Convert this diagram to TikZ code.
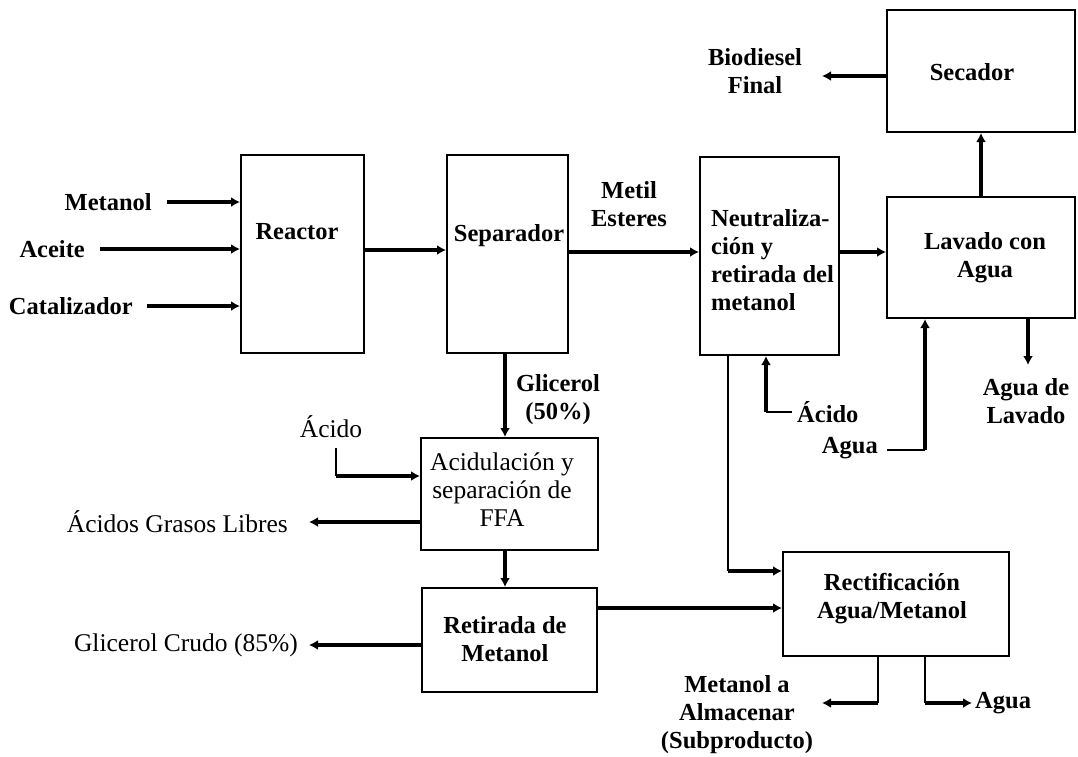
\documentclass[tikz,border=0pt]{standalone}
\usepackage{fontspec}
\setmainfont{Liberation Serif}
\usetikzlibrary{arrows.meta}
\tikzset{
 procbox/.style={draw, line width=2pt, inner sep=0pt},
 lb/.style={font=\fontsize{24.5}{28}\selectfont\bfseries, inner sep=0pt, align=center},
 lr/.style={font=\fontsize{25.5}{28}\selectfont, inner sep=0pt, align=center},
 flow/.style={line width=3.6pt, -{Latex[length=9pt,width=10pt]}},
 feed/.style={line width=1.5pt},
}
\begin{document}
\begin{tikzpicture}[x=1pt,y=-1pt]
\useasboundingbox[fill=white] (0,0) rectangle (1078,756);
% boxes
\node[procbox, minimum width=123pt, minimum height=198pt] (reactor) at (302.5,254) {};
\node[procbox, minimum width=121pt, minimum height=198pt] (sep) at (507.5,254) {};
\node[procbox, minimum width=139pt, minimum height=198pt] (neut) at (769.5,256) {};
\node[procbox, minimum width=188pt, minimum height=122pt] (secador) at (981,71) {};
\node[procbox, minimum width=188pt, minimum height=121pt] (lavado) at (981,257.5) {};
\node[procbox, minimum width=177pt, minimum height=112pt] (acid) at (509.5,494) {};
\node[procbox, minimum width=175pt, minimum height=104pt] (retir) at (509.5,640) {};
\node[procbox, minimum width=226pt, minimum height=104pt] (rect) at (896,604) {};
% box texts
\node[lb] (treactor) at (297,232) {Reactor};
\node[lb] (tsep) at (509,236) {Separador};
\node[lb, align=left, anchor=west] (tneut) at (711,260.5) {Neutraliza-\\ción y\\retirada del\\metanol};
\node[lb] (tsec) at (972,72) {Secador};
\node[lb] (tlav) at (985,257.5) {Lavado con\\Agua};
\node[lr] (tacid) at (502,490) {Acidulación y\\separación de\\FFA};
\node[lb] (tretir) at (505,639.5) {Retirada de\\Metanol};
\node[lb] (trect) at (892,599) {Rectificación\\Agua/Metanol};
% stream labels
\node[lb, anchor=east] (tmet) at (152,202) {Metanol};
\node[lb, anchor=east] (tace) at (85,249) {Aceite};
\node[lb, anchor=east] (tcat) at (133,306) {Catalizador};
\node[lb] (tmetil) at (629,204) {Metil\\Esteres};
\node[lb] (tbio) at (755,71) {Biodiesel\\Final};
\node[lb] (tglic) at (558,399.5) {Glicerol\\(50\%)};
\node[lr] (tacidoL) at (331,427) {Ácido};
\node[lr, anchor=east] (tagl) at (288,522) {Ácidos Grasos Libres};
\node[lr, anchor=east] (tgc) at (298,645) {Glicerol Crudo (85\%)};
\node[lb, anchor=west] (tacidoR) at (797,412) {Ácido};
\node[lb, anchor=east] (tagua) at (878,448) {Agua};
\node[lb] (taguaLav) at (1026,401) {Agua de\\Lavado};
\node[lb] (tmetalm) at (737,714.5) {Metanol a\\Almacenar\\(Subproducto)};
\node[lb, anchor=west] (taguaOut) at (975,703) {Agua};
% free ends
\coordinate (biotip) at (822,76);
\coordinate (agltip) at (309,522);
\coordinate (gctip) at (309,645);
\coordinate (aL) at (336,448);
\coordinate (aLc) at (336,476);
\coordinate (aR) at (792,412);
\coordinate (aRc) at (766,412);
\coordinate (ag) at (887,450);
\coordinate (agc) at (925,450);
\coordinate (lavtip) at (1028,365);
\coordinate (nrc) at (728,571);
\coordinate (mc) at (878,703);
\coordinate (mtip) at (822,703);
\coordinate (wc) at (925,703);
\coordinate (wtip) at (972,703);
% connectors
\draw[flow] ([xshift=15pt]tmet.east) -- (tmet.east -| reactor.west);
\draw[flow] ([xshift=15pt]tace.east) -- (tace.east -| reactor.west);
\draw[flow] ([xshift=14pt]tcat.east) -- (tcat.east -| reactor.west);
\draw[flow] (reactor.east |- 0,250) -- (sep.west |- 0,250);
\draw[flow] (sep.east |- 0,252) -- (neut.west |- 0,252);
\draw[flow] (neut.east |- 0,252) -- (lavado.west |- 0,252);
\draw[flow] (lavado.north) -- (secador.south);
\draw[flow] (secador.west |- biotip) -- (biotip);
\draw[flow] (sep.south -| 505,0) -- (acid.north -| 505,0);
\draw[flow] (acid.south -| 505,0) -- (retir.north -| 505,0);
\draw[feed] (aL) -- (aLc);
\draw[flow] (aLc) -- (acid.west |- aLc);
\draw[flow] (acid.west |- agltip) -- (agltip);
\draw[flow] (retir.west |- gctip) -- (gctip);
\draw[flow] (retir.east |- 0,608) -- (rect.west |- 0,608);
\draw[feed] (neut.south -| nrc) -- (nrc);
\draw[flow] (nrc) -- (rect.west |- nrc);
\draw[feed] (aR) -- (aRc);
\draw[flow] (aRc) -- (neut.south -| aRc);
\draw[feed] (ag) -- (agc);
\draw[flow] (agc) -- (lavado.south -| agc);
\draw[flow] (lavado.south -| lavtip) -- (lavtip);
\draw[feed] (rect.south -| mc) -- (mc);
\draw[flow] (mc) -- (mtip);
\draw[feed] (rect.south -| wc) -- (wc);
\draw[flow] (wc) -- (wtip);
\end{tikzpicture}
\end{document}
